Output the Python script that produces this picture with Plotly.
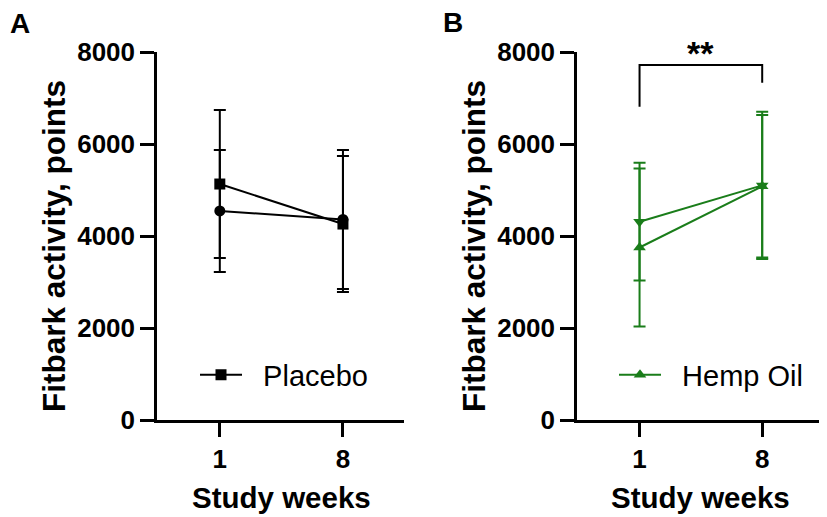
import plotly.graph_objects as go

# study weeks on the x axis
weeks = [1, 8]

# panel A - placebo (square = legend series, circle = second series)
placebo_sq_mean = [5130, 4260]
placebo_sq_sd = [1610, 1480]
placebo_ci_mean = [4545, 4360]
placebo_ci_sd = [1325, 1510]

# panel B - hemp oil (up triangle = legend series, down triangle = second series)
hemp_up_mean = [3750, 5080]
hemp_up_sd = [1720, 1550]
hemp_dn_mean = [4310, 5100]
hemp_dn_sd = [1280, 1600]

y_ticks = [0, 2000, 4000, 6000, 8000]
x_tick_labels = ["1", "8"]

FONT = "Liberation Sans, Arial, sans-serif"
BLACK = "#000000"
GREEN = "#1a7d1a"
GAP = "\u00a0\u00a0"  # pushes legend text away from its short symbol line

# the page body has an 8px margin, so the figure is drawn 8px smaller
# and every position below is given in window pixels
W, H, OFF = 819, 509, 8


def fx(p):
    return (p - OFF) / W


def fy(p):
    return 1 - (p - OFF) / H


def series(x, y, sd, color, symbol, name, xa, ya, legend, show):
    return go.Scatter(
        x=x, y=y, mode="lines+markers", name=name,
        line=dict(color=color, width=2),
        marker=dict(symbol=symbol, size=11, color=color),
        error_y=dict(type="data", array=sd, visible=True, color=color,
                     thickness=2, width=6),
        xaxis=xa, yaxis=ya, legend=legend, showlegend=show,
        cliponaxis=False,
    )


fig = go.Figure()
fig.add_trace(series(weeks, placebo_ci_mean, placebo_ci_sd, BLACK, "circle",
                     "Placebo 2", "x", "y", "legend", False))
fig.add_trace(series(weeks, placebo_sq_mean, placebo_sq_sd, BLACK, "square",
                     GAP + "Placebo", "x", "y", "legend", True))
fig.add_trace(series(weeks, hemp_dn_mean, hemp_dn_sd, GREEN, "triangle-down",
                     "Hemp Oil 2", "x2", "y2", "legend2", False))
fig.add_trace(series(weeks, hemp_up_mean, hemp_up_sd, GREEN, "triangle-up",
                     GAP + "Hemp Oil", "x2", "y2", "legend2", True))

tick_font = dict(family=FONT, size=26, color=BLACK, weight="bold")
xax = dict(range=[-2.57, 11.47], tickvals=weeks, ticktext=x_tick_labels,
           showline=True, linecolor=BLACK, linewidth=2.5, ticks="outside",
           ticklen=14, tickwidth=2.5, tickcolor=BLACK, showgrid=False,
           zeroline=False, automargin=False, tickfont=tick_font)
yax = dict(range=[0, 8000], tickvals=y_ticks, showline=True, linecolor=BLACK,
           linewidth=2.5, ticks="outside", ticklen=14, tickwidth=2.5,
           tickcolor=BLACK, showgrid=False, zeroline=False, automargin=False,
           domain=[fy(420), fy(52)], tickfont=tick_font)

legend_style = dict(y=fy(375), xanchor="left", yanchor="middle",
                    bgcolor="rgba(0,0,0,0)", itemwidth=42,
                    font=dict(family=FONT, size=29, color=BLACK))

fig.update_layout(
    template="none",
    width=W, height=H, autosize=False,
    margin=dict(l=0, r=0, t=0, b=0, pad=0),
    plot_bgcolor="white", paper_bgcolor="white",
    xaxis=dict(xax, domain=[fx(157), fx(404)], anchor="y"),
    yaxis=dict(yax, anchor="x"),
    xaxis2=dict(xax, domain=[fx(577), fx(823)], anchor="y2"),
    yaxis2=dict(yax, anchor="x2"),
    legend=dict(legend_style, x=fx(195)),
    legend2=dict(legend_style, x=fx(614)),
)

# significance bracket between week 1 and week 8 in panel B
fig.add_shape(type="path", xref="x2", yref="y2",
              path="M 1,6810 L 1,7717 L 8,7717 L 8,7333",
              line=dict(color=BLACK, width=2))
fig.add_annotation(x=4.5, y=fy(53), xref="x2", yref="paper", text="**",
                   xanchor="center", yanchor="middle", showarrow=False,
                   font=dict(family=FONT, size=34, color=BLACK, weight="bold"))

# panel letters and axis titles
for letter, px, py in [("A", 20, 24), ("B", 453, 23)]:
    fig.add_annotation(x=fx(px), y=fy(py), xref="paper", yref="paper",
                       text=letter, showarrow=False, xanchor="center",
                       yanchor="middle",
                       font=dict(family=FONT, size=28, color=BLACK, weight="bold"))
for px in [54, 474]:
    fig.add_annotation(x=fx(px), y=fy(246), xref="paper", yref="paper",
                       text="Fitbark activity, points", textangle=-90,
                       xanchor="center", yanchor="middle", showarrow=False,
                       font=dict(family=FONT, size=31.5, color=BLACK, weight="bold"))
for px in [281, 700]:
    fig.add_annotation(x=fx(px), y=fy(497), xref="paper", yref="paper",
                       text="Study weeks", xanchor="center", yanchor="middle",
                       showarrow=False,
                       font=dict(family=FONT, size=29.5, color=BLACK, weight="bold"))

fig.write_html("out.html")
